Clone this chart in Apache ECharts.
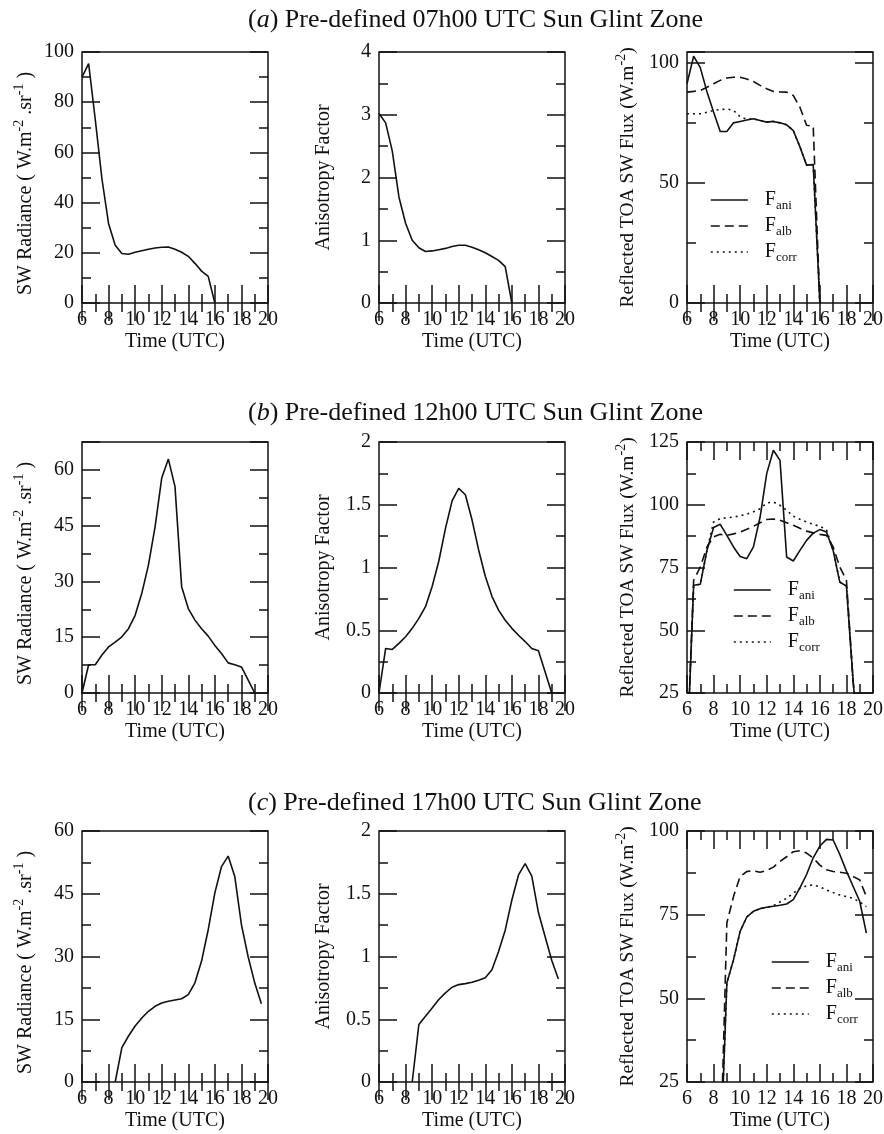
<!DOCTYPE html>
<html>
<head>
<meta charset="utf-8">
<title>Sun Glint Zone fluxes</title>
<script src="https://cdn.jsdelivr.net/npm/echarts@6/dist/echarts.min.js"></script>
<style>
  html, body { margin: 0; padding: 0; background: #fff; }
  #chart { width: 884px; height: 1134px; }
</style>
</head>
<body>
<div id="chart"></div>
<script>
// ---- data ----
var hoursA = [6, 6.5, 7, 7.5, 8, 8.5, 9, 9.5, 10, 10.5, 11, 11.5, 12, 12.5, 13, 13.5, 14, 14.5, 15, 15.5, 16];
var radianceA = [90, 95.4, 73, 49.5, 31.6, 23, 19.7, 19.4, 20.2, 20.8, 21.4, 21.9, 22.2, 22.3, 21.4, 20.2, 18.6, 15.8, 12.7, 10.6, 0];
var anisoA = [3.02, 2.87, 2.42, 1.69, 1.27, 1.0, 0.88, 0.82, 0.83, 0.85, 0.87, 0.9, 0.92, 0.92, 0.89, 0.85, 0.8, 0.74, 0.68, 0.58, 0];
var fluxAniA = [91.3, 102.8, 98, 88, 79.5, 71.4, 71.4, 75, 75.6, 76.2, 76.7, 76, 75.3, 75.6, 75, 74.2, 71.8, 65, 57.4, 57.6, 0];
var fluxAlbA = [87.8, 88.1, 88.5, 89.8, 91.3, 92.7, 93.7, 94, 94, 93.3, 92.2, 90.6, 89.2, 88.1, 87.9, 87.8, 86.4, 81.5, 74, 73.6, 0];
var fluxCorrA = [78.8, 78.8, 78.8, 79.4, 80.2, 80.5, 80.8, 80.2, 77.5, 76.5, 76.7, 76, 75.3, 75.6, 75, 74.2, 71.8, 65, 57.4, 57.6, 0];

var hoursB = [6, 6.5, 7, 7.5, 8, 8.5, 9, 9.5, 10, 10.5, 11, 11.5, 12, 12.5, 13, 13.5, 14, 14.5, 15, 15.5, 16, 16.5, 17, 17.5, 18, 18.5, 19];
var radianceB = [0, 7.6, 7.6, 10.2, 12.4, 13.7, 15.1, 17.3, 20.9, 26.8, 34.4, 44.7, 57.8, 62.9, 55.5, 28.6, 22.7, 19.6, 17.3, 15.3, 12.8, 10.6, 8.1, 7.6, 7.0, 3.5, 0];
var anisoB = [0, 0.355, 0.347, 0.395, 0.448, 0.515, 0.595, 0.688, 0.848, 1.05, 1.31, 1.53, 1.63, 1.58, 1.38, 1.14, 0.93, 0.77, 0.66, 0.58, 0.515, 0.46, 0.41, 0.355, 0.336, 0.17, 0];
var fluxAniB = [0, 67.9, 68.3, 81.8, 90.9, 92.2, 87.8, 83.2, 79.4, 78.5, 83.2, 95, 112.4, 121.7, 117.7, 79.2, 77.6, 81.8, 85.8, 88.7, 90.1, 89.1, 81.8, 69.2, 67.6, 30, 0];
var fluxAlbB = [0, 69.9, 75.2, 83.2, 87.2, 88.2, 87.8, 88.4, 89.1, 90.2, 91.4, 92.8, 94.1, 94.3, 93.8, 92.8, 91.8, 90.6, 89.5, 88.8, 88.2, 87.8, 83.2, 75.2, 69.9, 30, 0];
var fluxCorrB = [0, 67.9, 68.3, 81.8, 93.1, 94.5, 94.8, 95.1, 95.6, 96.2, 97.2, 98.4, 100.7, 101.1, 99.8, 97.8, 95.4, 94.2, 93.1, 92.2, 91.4, 90.1, 81.8, 69.2, 67.6, 30, 0];

var hoursC = [8.5, 9, 9.5, 10, 10.5, 11, 11.5, 12, 12.5, 13, 13.5, 14, 14.5, 15, 15.5, 16, 16.5, 17, 17.5, 18, 18.5, 19, 19.5];
var radianceC = [0, 8.2, 11, 13.4, 15.3, 16.9, 18.1, 18.9, 19.3, 19.6, 19.9, 20.9, 23.7, 28.9, 36.4, 45.2, 51.5, 54, 49.1, 37.6, 30, 23.7, 18.7];
var anisoC = [0, 0.458, 0.524, 0.59, 0.657, 0.71, 0.755, 0.776, 0.784, 0.795, 0.81, 0.83, 0.895, 1.04, 1.21, 1.45, 1.65, 1.74, 1.64, 1.35, 1.16, 0.97, 0.82];
var fluxAniC = [0, 54.6, 61.5, 70, 74.3, 76, 76.8, 77.2, 77.5, 77.8, 78.2, 79.5, 83, 87, 92, 95.5, 97.5, 97.3, 93, 88, 83.5, 79, 69.5];
var fluxAlbC = [0, 72.5, 80.4, 86.4, 87.9, 88.1, 87.7, 88.2, 89.2, 90.9, 92.3, 93.8, 94.1, 93.4, 91.9, 89.8, 88.4, 87.9, 87.7, 87.4, 86.4, 85.4, 80.4];
var fluxCorrC = [0, 54.6, 61.5, 70, 74.3, 76, 76.8, 77.2, 77.7, 78.8, 79.9, 81.4, 82.9, 83.6, 83.9, 83.3, 82.4, 81.6, 80.9, 80.4, 79.9, 78.8, 77.4];

// tick labels
var timeTicks = [6, 8, 10, 12, 14, 16, 18, 20];
var radTicksA = [0, 20, 40, 60, 80, 100];
var anisoTicksA = [0, 1, 2, 3, 4];
var fluxTicksA = [0, 50, 100];
var radTicksBC = [0, 15, 30, 45, 60];
var anisoTicksBC = [0, 0.5, 1, 1.5, 2];
var fluxTicksB = [25, 50, 75, 100, 125];
var fluxTicksC = [25, 50, 75, 100];

var titles = [
  '({i|a}) Pre-defined 07h00 UTC Sun Glint Zone',
  '({i|b}) Pre-defined 12h00 UTC Sun Glint Zone',
  '({i|c}) Pre-defined 17h00 UTC Sun Glint Zone'
];
var fluxNames = ['F_ani', 'F_alb', 'F_corr'];

// ---- layout ----
var FONT = '"Liberation Serif", "DejaVu Serif", serif';
var INK = '#111';
var colLeft = [82, 379, 687];
var rowTop = [52, 442, 831];
var titleTop = [7, 400, 790];
var legendPos = [[710, 188], [733, 578], [771, 950]];
var plotW = 186, plotH = 251;
var dashes = ['solid', [9, 5], [2, 4]];

var radName = 'SW Radiance ( W.m{sup|-2} .sr{sup|-1} )';
var anisoName = 'Anisotropy Factor';
var fluxName = 'Reflected TOA SW Flux (W.m{sup|-2})';

var option = {
  animation: false,
  backgroundColor: '#fff',
  title: [], grid: [], xAxis: [], yAxis: [], legend: [], series: []
};

function onTick(ticks, v) {
  for (var i = 0; i < ticks.length; i++) {
    if (Math.abs(ticks[i] - v) < 1e-9) return true;
  }
  return false;
}

// major + minor ticks on both sides, labels only on bottom/left
function addAxes(list, dim, g, range, ticks, minor, name, gap, ns) {
  var near = dim === 'x' ? 'bottom' : 'left';
  var far = dim === 'x' ? 'top' : 'right';
  var step = ticks[1] - ticks[0];
  var main = list.length;
  // shift > 0 moves a rotated name up along the axis
  var shift = ns.shift || 0;
  var pad = shift > 0 ? [0, 0, 0, 2 * shift] : [0, -2 * shift, 0, 0];
  [near, far].forEach(function (pos) {
    [[step, 18], [minor, 9]].forEach(function (t, k) {
      var labelled = pos === near && k === 0;
      list.push({
        type: 'value', gridIndex: g, position: pos,
        min: range[0], max: range[1], interval: t[0],
        axisLine: { show: false },
        splitLine: { show: false },
        axisTick: { show: true, inside: true, length: t[1], lineStyle: { color: INK, width: 1.5 } },
        axisLabel: {
          show: labelled, margin: dim === 'x' ? 7 : 8,
          fontFamily: FONT, fontSize: 20, color: INK,
          formatter: function (v) { return onTick(ticks, v) ? String(v) : ''; }
        },
        name: labelled ? name : '',
        nameLocation: 'middle', nameGap: gap,
        nameRotate: dim === 'y' ? 90 : 0,
        nameMoveOverlap: false,
        nameTextStyle: {
          fontFamily: FONT, fontSize: ns.size, color: INK, lineHeight: ns.lh, padding: pad,
          rich: { sup: { fontFamily: FONT, fontSize: 14, lineHeight: 12, verticalAlign: 'top', color: INK } }
        }
      });
    });
  });
  return main;
}

function addLine(name, hours, values, xi, yi, dash) {
  option.series.push({
    type: 'line', name: name, xAxisIndex: xi, yAxisIndex: yi,
    data: hours.map(function (h, i) { return [h, values[i]]; }),
    symbol: 'none', showSymbol: false, clip: true, silent: true,
    emphasis: { disabled: true },
    lineStyle: { color: INK, width: 1.6, type: dash },
    itemStyle: { color: INK }
  });
}

var radStyle = { size: 20, lh: 28, shift: -6 };
var anisoStyle = { size: 20, lh: 20 };
var fluxStyle = { size: 19.5, lh: 28 };

var panels = [
  { row: 0, col: 0, yr: [0, 100], ticks: radTicksA, minor: 10, name: radName, gap: 42, ns: radStyle, hours: hoursA, lines: [radianceA] },
  { row: 0, col: 1, yr: [0, 4], ticks: anisoTicksA, minor: 0.5, name: anisoName, gap: 45, ns: anisoStyle, hours: hoursA, lines: [anisoA] },
  { row: 0, col: 2, yr: [0, 104.5], ticks: fluxTicksA, minor: 25, name: fluxName, gap: 45, ns: fluxStyle, hours: hoursA, lines: [fluxAniA, fluxAlbA, fluxCorrA] },
  { row: 1, col: 0, yr: [0, 67.5], ticks: radTicksBC, minor: 7.5, name: radName, gap: 42, ns: radStyle, hours: hoursB, lines: [radianceB] },
  { row: 1, col: 1, yr: [0, 2], ticks: anisoTicksBC, minor: 0.25, name: anisoName, gap: 45, ns: anisoStyle, hours: hoursB, lines: [anisoB] },
  { row: 1, col: 2, yr: [25, 125], ticks: fluxTicksB, minor: 12.5, name: fluxName, gap: 45, ns: fluxStyle, hours: hoursB, lines: [fluxAniB, fluxAlbB, fluxCorrB] },
  { row: 2, col: 0, yr: [0, 60], ticks: radTicksBC, minor: 7.5, name: radName, gap: 42, ns: radStyle, hours: hoursC, lines: [radianceC] },
  { row: 2, col: 1, yr: [0, 2], ticks: anisoTicksBC, minor: 0.25, name: anisoName, gap: 45, ns: anisoStyle, hours: hoursC, lines: [anisoC] },
  { row: 2, col: 2, yr: [25, 100], ticks: fluxTicksC, minor: 12.5, name: fluxName, gap: 45, ns: fluxStyle, hours: hoursC, lines: [fluxAniC, fluxAlbC, fluxCorrC] }
];

panels.forEach(function (p, g) {
  option.grid.push({
    left: colLeft[p.col], top: rowTop[p.row], width: plotW, height: plotH,
    show: true, borderColor: INK, borderWidth: 1.5, backgroundColor: 'transparent',
    containLabel: false, outerBoundsMode: 'none'
  });
  var xi = addAxes(option.xAxis, 'x', g, [6, 20], timeTicks, 1, 'Time (UTC)', 29, { size: 20, lh: 20 });
  var yi = addAxes(option.yAxis, 'y', g, p.yr, p.ticks, p.minor, p.name, p.gap, p.ns);
  if (p.lines.length === 1) {
    addLine('panel' + g, p.hours, p.lines[0], xi, yi, 'solid');
  } else {
    // dotted first so the solid sits on top where they coincide
    for (var k = p.lines.length - 1; k >= 0; k--) {
      addLine(fluxNames[k], p.hours, p.lines[k], xi, yi, dashes[k]);
    }
  }
});

titles.forEach(function (t, r) {
  option.title.push({
    text: t, left: 248, top: titleTop[r], padding: 0,
    textStyle: {
      fontFamily: FONT, fontSize: 26, fontWeight: 'normal', color: INK,
      rich: { i: { fontFamily: FONT, fontSize: 26, fontStyle: 'italic', color: INK } }
    }
  });
  option.legend.push({
    orient: 'vertical', left: legendPos[r][0], top: legendPos[r][1], padding: 0,
    itemWidth: 37, itemHeight: 24, itemGap: 2, selectedMode: false,
    itemStyle: { opacity: 0 },
    data: fluxNames.map(function (n, k) {
      return { name: n, itemStyle: { opacity: 0 }, lineStyle: { color: INK, width: 1.6, type: dashes[k] } };
    }),
    formatter: function (n) { return 'F{s|' + n.split('_')[1] + '}'; },
    textStyle: {
      fontFamily: FONT, fontSize: 20, color: INK, lineHeight: 24, padding: [0, 0, 0, 12],
      rich: { s: { fontFamily: FONT, fontSize: 13, lineHeight: 14, verticalAlign: 'bottom', color: INK } }
    }
  });
});

var chart = echarts.init(document.getElementById('chart'), null, { renderer: 'canvas' });
chart.setOption(option);
</script>
</body>
</html>
